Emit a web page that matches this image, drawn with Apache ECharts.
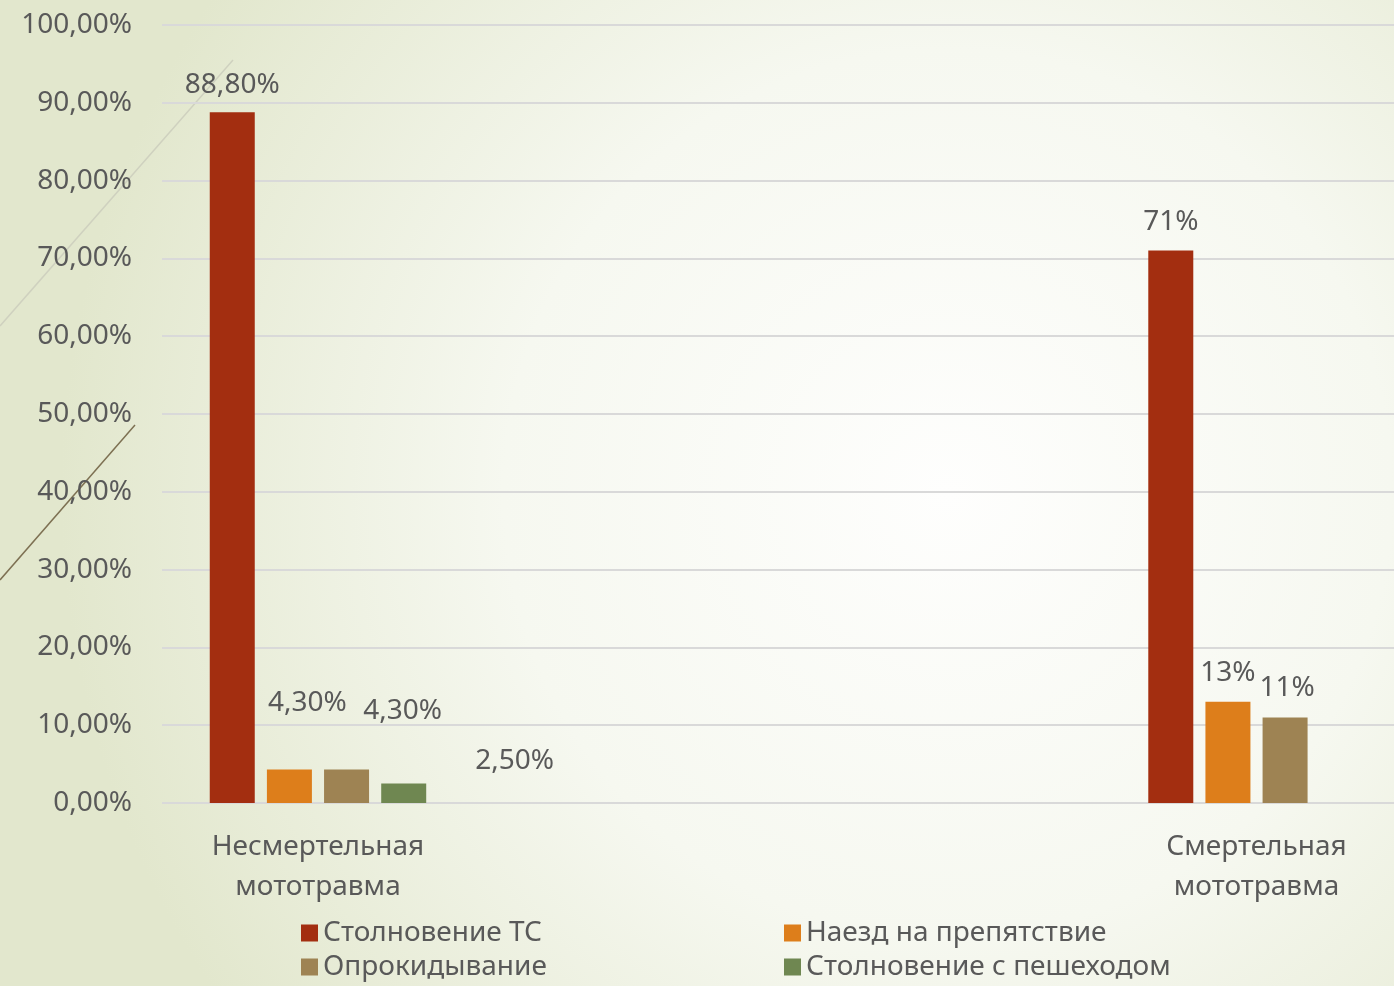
<!DOCTYPE html>
<html>
<head>
<meta charset="utf-8">
<style>
  html, body { margin: 0; padding: 0; }
  #chart { width: 1394px; height: 986px; }
</style>
<script src="https://cdn.jsdelivr.net/npm/echarts@6/dist/echarts.min.js"></script>
</head>
<body>
<div id="chart"></div>
<script>
// категории и данные
var categories = ['Несмертельная\nмототравма', 'Смертельная\nмототравма'];
var seriesNames = ['Столновение ТС', 'Наезд на препятствие', 'Опрокидывание', 'Столновение с пешеходом'];
var collision = [88.8, 71];
var obstacle = [4.3, 13];
var rollover = [4.3, 11];
var pedestrian = [2.5, null];
var yTicks = [0, 10, 20, 30, 40, 50, 60, 70, 80, 90, 100];

var colors = ['#a32e10', '#dd7e1b', '#9e8353', '#6f8751'];
var textColor = '#595959';
var font = '"Noto Sans", "DejaVu Sans", sans-serif';

// подписи: в первой категории с двумя знаками, во второй целые
function fmtLabel (v, idx) {
  if (v == null) return '';
  return idx === 0 ? v.toFixed(2).replace('.', ',') + '%' : Math.round(v) + '%';
}

// ручные смещения подписей как на слайде [series][category]
var labelOffsets = [
  [[0, 2], [0, 0]],
  [[18, -38], [0, 0]],
  [[56, -30], [2, 0]],
  [[111, 6], [0, 0]]
];

var allData = [collision, obstacle, rollover, pedestrian];

var chart = echarts.init(document.getElementById('chart'));

// ось X числовая: категория i стоит в точке x = i, поля слайда задаются min/max
var series = allData.map(function (arr, s) {
  return {
    name: seriesNames[s],
    type: 'bar',
    barWidth: 45,
    barGap: '27%',
    itemStyle: { color: colors[s] },
    data: arr.map(function (v, i) {
      return {
        value: [i, v == null ? '-' : v],
        label: {
          show: v != null,
          position: 'top',
          distance: 15,
          offset: labelOffsets[s][i],
          formatter: fmtLabel(v, i),
          color: textColor,
          fontSize: 28,
          fontFamily: font
        }
      };
    })
  };
});

var option = {
  backgroundColor: {
    type: 'radial', x: 0.68, y: 0.5, r: 0.9,
    colorStops: [
      { offset: 0, color: '#fefefd' },
      { offset: 0.5, color: '#f6f8f0' },
      { offset: 1, color: '#e2e7cd' }
    ]
  },
  animation: false,
  textStyle: { fontFamily: font },
  graphic: [
    { type: 'line', shape: { x1: 0, y1: 326, x2: 233, y2: 60 }, style: { stroke: '#cfd1bf', lineWidth: 1.5 } },
    { type: 'line', shape: { x1: 0, y1: 580, x2: 135, y2: 425 }, style: { stroke: '#7d7052', lineWidth: 1.5 } }
  ],
  legend: [
    {
      data: [seriesNames[0], seriesNames[2]],
      orient: 'vertical', left: 296, top: 914,
      itemWidth: 17, itemHeight: 17, itemGap: 6,
      icon: 'rect',
      textStyle: { color: textColor, fontSize: 28, fontFamily: font }
    },
    {
      data: [seriesNames[1], seriesNames[3]],
      orient: 'vertical', left: 779, top: 914,
      itemWidth: 17, itemHeight: 17, itemGap: 6,
      icon: 'rect',
      textStyle: { color: textColor, fontSize: 28, fontFamily: font }
    }
  ],
  grid: { left: 162, right: 0, top: 25, bottom: 183 },
  xAxis: {
    type: 'value',
    min: -0.1662, max: 1.1465,
    axisLine: { show: false }, axisTick: { show: false },
    splitLine: { show: false },
    axisLabel: {
      customValues: [0, 1],
      formatter: function (v) { return categories[Math.round(v)]; },
      color: textColor, fontSize: 28, fontFamily: font,
      lineHeight: 40, margin: 24
    }
  },
  yAxis: {
    type: 'value', min: yTicks[0], max: yTicks[yTicks.length - 1], interval: 10,
    axisLine: { show: false }, axisTick: { show: false },
    axisLabel: {
      color: textColor, fontSize: 28, fontFamily: font, margin: 30,
      formatter: function (v) { return v + ',00%'; }
    },
    splitLine: { lineStyle: { color: '#d9d9d9', width: 2 } }
  },
  series: series
};

chart.setOption(option);
</script>
</body>
</html>
